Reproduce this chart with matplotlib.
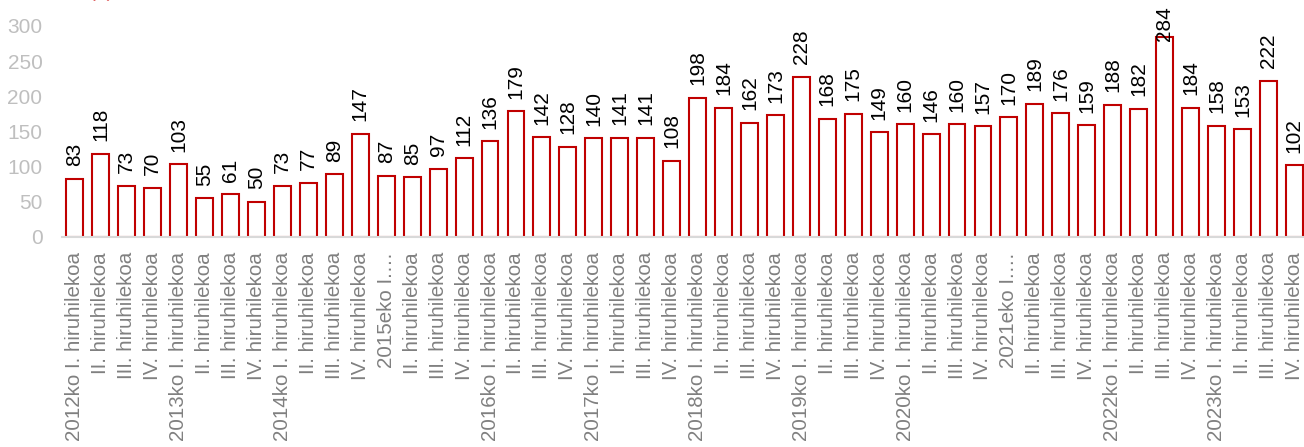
import matplotlib.pyplot as plt
import numpy as np

plt.rcParams['font.family'] = ['Liberation Sans', 'DejaVu Sans']

# Quarterly values, 2012-2023
years = ['2012ko', '2013ko', '2014ko', '2015eko', '2016ko', '2017ko',
         '2018ko', '2019ko', '2020ko', '2021eko', '2022ko', '2023ko']
quarters = ['I.', 'II.', 'III.', 'IV.']
values = [83, 118, 73, 70,
          103, 55, 61, 50,
          73, 77, 89, 147,
          87, 85, 97, 112,
          136, 179, 142, 128,
          140, 141, 141, 108,
          198, 184, 162, 173,
          228, 168, 175, 149,
          160, 146, 160, 157,
          170, 189, 176, 159,
          188, 182, 284, 184,
          158, 153, 222, 102]
# long year labels that get shortened on the axis
short_years = ['2015eko', '2021eko']

labels = []
for y in years:
    for q in quarters:
        if q == 'I.':
            if y in short_years:
                labels.append(y + ' I.…')
            else:
                labels.append(y + ' I. hiruhilekoa')
        else:
            labels.append(q + ' hiruhilekoa')

fig = plt.figure(figsize=(13.04, 4.47), dpi=100)
ax = fig.add_axes([0.0475, 0.470, 0.955, 0.472])

xpos = np.arange(len(values))
ax.bar(xpos, values, width=0.65, color='white', edgecolor='#c00000',
       linewidth=1.5, zorder=2)

ax.set_xlim(-0.5, len(values) - 0.5)
ax.set_ylim(0, 300)
ax.set_yticks(range(0, 301, 50))
ax.set_xticks(xpos)
ax.set_xticklabels(labels, rotation=90, ha='center', va='top')

value_texts = []
for x, v in zip(xpos, values):
    t = ax.annotate(str(v), (x, v), xytext=(0, 9), textcoords='offset points',
                    rotation=90, ha='center', va='bottom', fontsize=15,
                    color='black', annotation_clip=False, zorder=4)
    value_texts.append(t)

# push labels that would run off the top back down inside the figure
fig.canvas.draw()
renderer = fig.canvas.get_renderer()
top_px = fig.bbox.height - 6
for t in value_texts:
    bb = t.get_window_extent(renderer)
    if bb.y1 > top_px:
        dy = (bb.y1 - top_px) * 72 / fig.dpi
        t.set_position((0, 9 - dy))

ax.tick_params(axis='y', length=0, labelsize=15, labelcolor='#bfbfbf', pad=14)
ax.tick_params(axis='x', length=0, labelsize=14.8, labelcolor='#808080', pad=11)

for s in ['top', 'right', 'left']:
    ax.spines[s].set_visible(False)
ax.spines['bottom'].set_color('#d9d9d9')
ax.spines['bottom'].set_linewidth(1.5)
ax.spines['bottom'].set_zorder(3)

# unit note above the plot, mostly cut off by the top edge
fig.text(0.068, 1.0 + 3 / 447, '(€)', color='#e06666', fontsize=15,
         va='baseline')

fig.savefig('out.png', dpi=100)
